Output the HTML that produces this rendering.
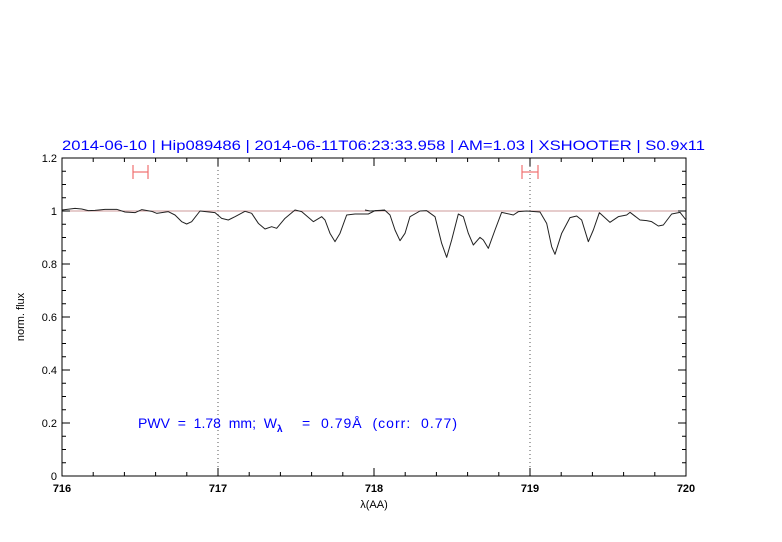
<!DOCTYPE html>
<html><head><meta charset="utf-8"><style>
html,body{margin:0;padding:0;background:#fff;}
svg{display:block;font-family:"Liberation Sans",sans-serif;}
</style></head><body>
<svg width="782" height="542" viewBox="0 0 782 542" xmlns="http://www.w3.org/2000/svg">
<rect width="782" height="542" fill="#fff"/>
<text x="62" y="150" font-size="14" fill="#0000ff" textLength="643" lengthAdjust="spacingAndGlyphs">2014-06-10 | Hip089486 | 2014-06-11T06:23:33.958 | AM=1.03 | XSHOOTER | S0.9x11</text>
<!-- dotted verticals -->
<line x1="218" y1="158" x2="218" y2="476" stroke="#555" stroke-width="1" stroke-dasharray="1,3"/>
<line x1="530" y1="158" x2="530" y2="476" stroke="#555" stroke-width="1" stroke-dasharray="1,3"/>
<!-- unity line -->
<line x1="62" y1="211" x2="686" y2="211" stroke="#c99" stroke-width="1"/>
<!-- error bars -->
<g stroke="#f07070" stroke-width="1.2">
<line x1="133" y1="172" x2="148" y2="172"/><line x1="133" y1="165" x2="133" y2="179"/><line x1="148" y1="165" x2="148" y2="179"/>
<line x1="522" y1="172" x2="538" y2="172"/><line x1="522" y1="165" x2="522" y2="179"/><line x1="538" y1="165" x2="538" y2="179"/>
</g>
<!-- spectrum -->
<g fill="none" stroke="#222" stroke-width="1">
<polyline transform="translate(55,150) scale(0.33333)" vector-effect="non-scaling-stroke" stroke-linejoin="round" points="21,180 60,175 80,177 100,182 120,181 150,178 185,178 210,186 240,188 260,179 290,184 305,190 340,185 360,195 380,215 395,222 410,215 435,183 480,188 500,205 520,210 540,200 570,184 590,190 610,220 630,237 650,230 665,235 690,205 720,180 740,185 775,215 800,200 810,210 825,250 840,275 855,250 875,195 900,192 940,192 960,182 990,180"/>
<polyline transform="translate(370,150) scale(0.33333)" vector-effect="non-scaling-stroke" stroke-linejoin="round" points="-15,180 0,183 45,181 60,195 75,240 90,272 105,250 120,200 150,183 170,182 195,200 215,280 230,322 245,270 265,192 280,200 295,250 310,285 330,262 340,270 355,295 375,240 395,187 430,195 445,185 470,183 510,186 530,220 545,290 555,313 575,250 600,203 620,198 635,210 655,275 670,240 688,188 720,217 745,200 770,195 780,187 810,210 830,212 845,215 865,228 880,225 905,192 930,187 948,210"/>
</g>
<!-- frame -->
<rect x="62" y="158" width="624" height="318" fill="none" stroke="#000" stroke-width="1"/>
<!-- ticks -->
<g stroke="#000" stroke-width="1">
<path d="M62 476v-8M93.2 476v-4M124.4 476v-4M155.6 476v-4M186.8 476v-4M218 476v-8M249.2 476v-4M280.4 476v-4M311.6 476v-4M342.8 476v-4M374 476v-8M405.2 476v-4M436.4 476v-4M467.6 476v-4M498.8 476v-4M530 476v-8M561.2 476v-4M592.4 476v-4M623.6 476v-4M654.8 476v-4M686 476v-8"/>
<path d="M62 158v8M93.2 158v4M124.4 158v4M155.6 158v4M186.8 158v4M218 158v8M249.2 158v4M280.4 158v4M311.6 158v4M342.8 158v4M374 158v8M405.2 158v4M436.4 158v4M467.6 158v4M498.8 158v4M530 158v8M561.2 158v4M592.4 158v4M623.6 158v4M654.8 158v4M686 158v8"/>
<path d="M62 476h8M62 462.75h4M62 449.5h4M62 436.25h4M62 423h8M62 409.75h4M62 396.5h4M62 383.25h4M62 370h8M62 356.75h4M62 343.5h4M62 330.25h4M62 317h8M62 303.75h4M62 290.5h4M62 277.25h4M62 264h8M62 250.75h4M62 237.5h4M62 224.25h4M62 211h8M62 197.75h4M62 184.5h4M62 171.25h4M62 158h8"/>
<path d="M686 476h-8M686 462.75h-4M686 449.5h-4M686 436.25h-4M686 423h-8M686 409.75h-4M686 396.5h-4M686 383.25h-4M686 370h-8M686 356.75h-4M686 343.5h-4M686 330.25h-4M686 317h-8M686 303.75h-4M686 290.5h-4M686 277.25h-4M686 264h-8M686 250.75h-4M686 237.5h-4M686 224.25h-4M686 211h-8M686 197.75h-4M686 184.5h-4M686 171.25h-4M686 158h-8"/>
</g>
<!-- y labels -->
<g font-size="11" text-anchor="end" fill="#000">
<text x="57" y="480">0</text>
<text x="57" y="427">0.2</text>
<text x="57" y="374">0.4</text>
<text x="57" y="321">0.6</text>
<text x="57" y="268">0.8</text>
<text x="57" y="215">1</text>
<text x="57" y="162">1.2</text>
</g>
<g font-size="11" text-anchor="middle" fill="#000" font-weight="bold">
<text x="62" y="492">716</text>
<text x="218" y="492">717</text>
<text x="374" y="492">718</text>
<text x="530" y="492">719</text>
<text x="686" y="492">720</text>
<text x="374" y="508" font-weight="normal">λ(AA)</text>
</g>
<text transform="translate(24,317) rotate(-90)" font-size="11" text-anchor="middle" fill="#000">norm. flux</text>
<g font-size="14" fill="#0000ff">
<text x="138" y="428" textLength="139" lengthAdjust="spacing" xml:space="preserve">PWV  =  1.78  mm;  W</text>
<text x="277" y="432" font-size="10" font-weight="bold">λ</text>
<text x="302" y="428" textLength="155" lengthAdjust="spacing" xml:space="preserve">=  0.79Å  (corr:  0.77)</text>
</g>
</svg>
</body></html>
